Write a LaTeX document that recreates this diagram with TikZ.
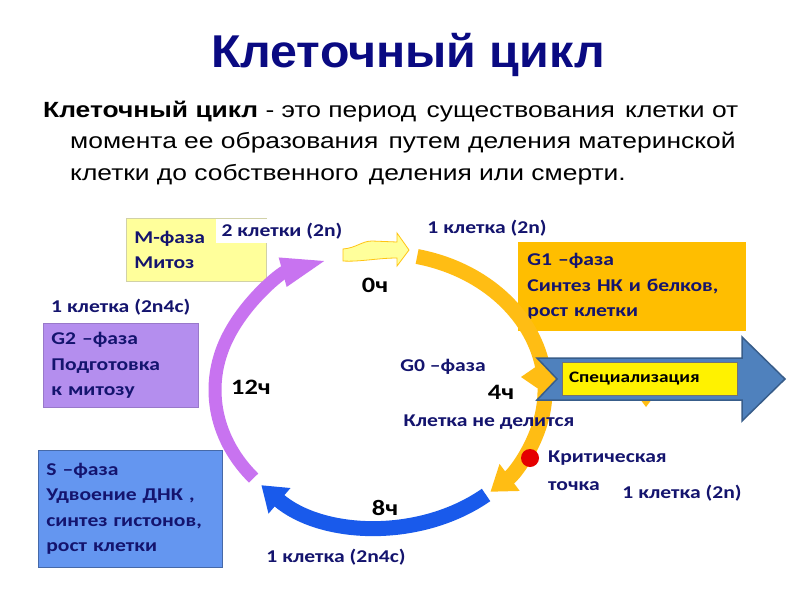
\documentclass[tikz,border=0pt]{standalone}
\usepackage{fontspec}
\setmainfont[FakeStretch=1.2]{Liberation Sans}
\newfontfamily\titlefont[FakeStretch=1.05]{Liberation Sans}
\newfontfamily\labelfont[FakeStretch=1.2]{Carlito}
\usetikzlibrary{calc,arrows.meta}
\definecolor{titleblue}{RGB}{10,10,130}
\definecolor{navy}{RGB}{20,20,110}
\definecolor{gold}{RGB}{255,189,20}
\definecolor{goldbox}{RGB}{255,190,0}
\definecolor{cycleblue}{RGB}{25,90,235}
\definecolor{orchid}{RGB}{200,115,240}
\definecolor{lavender}{RGB}{180,142,238}
\definecolor{cornflower}{RGB}{100,150,240}
\definecolor{paleyellow}{RGB}{255,255,155}
\definecolor{steel}{RGB}{79,129,189}
\definecolor{steelline}{RGB}{56,93,138}
\def\phasearc[#1](#2:#3){\draw[#1] ($(380,390)+({165*cos(#2)},{137*sin(#2)})$) arc[start angle=#2, end angle=#3, x radius=165, y radius=137];}

\begin{document}
\begin{tikzpicture}[x=1pt, y=-1pt,
	lbl/.style={font=\labelfont\bfseries\fontsize{18}{25.5}\selectfont, text=navy, inner sep=0pt},
	hrs/.style={font=\labelfont\bfseries\fontsize{22}{26}\selectfont, text=black, inner sep=0pt},
	defline/.style={anchor=base west, font=\fontsize{22}{26}\selectfont, inner sep=0pt},
	phasebox/.style={lbl, anchor=north west, align=left, inner xsep=8pt, inner ysep=0pt, line width=0.8pt}]
			%%%%% START %%%%%
			
			\fill[white] (0,0) rectangle (800,600);
			\useasboundingbox (0,0) rectangle (800,600);
			
			\node[font=\titlefont\bfseries\fontsize{46}{50}\selectfont, text=titleblue, anchor=base] (title) at (408,67) {Клеточный цикл};
			\node[defline] (def1) at (43,117) {\textbf{Клеточный цикл} - это период\hspace{3pt} существования\hspace{3pt} клетки от};
			\node[defline] (def2) at (70,148.5) {момента ее образования\hspace{3pt} путем деления материнской};
			\node[defline] (def3) at (70,180) {клетки до собственного\hspace{3pt} деления или смерти.};
			
			% phase boxes
			\node[phasebox, fill=paleyellow, draw=paleyellow!70!black!60, minimum width=140pt, minimum height=63pt, text width=124pt] (mbox) at (126,218) {M-фаза\\Митоз};
			\node[phasebox, fill=lavender, draw=lavender!85!black, minimum width=155pt, minimum height=84pt, text width=139pt] (gtwobox) at (43,323) {G2 –фаза\\Подготовка\\к митозу};
			\node[phasebox, fill=cornflower, draw=cornflower!70!black, minimum width=184pt, minimum height=117pt, text width=168pt] (sbox) at (38,450) {S –фаза\\Удвоение ДНК ,\\синтез гистонов,\\рост клетки};
			\node[phasebox, fill=goldbox, draw=goldbox, minimum width=227pt, minimum height=88pt, text width=209pt, inner xsep=9pt] (gonebox) at (518,242) {G1 –фаза\\Синтез НК и белков,\\рост клетки};
			
			% G0 branch, mostly under the blue arrow
			\fill[gold] (537,366) -- (521,377) -- (537,388) -- (640,399) -- (646,407) -- (652,399) -- (652,362) -- cycle;
			
			% the cycle
			\phasearc[gold, line width=15pt, -{Triangle[length=24pt,width=32pt]}](-77:48)
			\phasearc[cycleblue, line width=15pt, -{Triangle[length=24pt,width=32pt]}](50:136)
			\phasearc[orchid, line width=13pt, -{Triangle[length=48pt,width=26pt]}](140:252)
			
			\draw[fill=paleyellow, draw=gold!90!yellow, line width=0.8pt] (343,249) .. controls (356,248) and (362,241) .. (372,241) -- (397,242) -- (397,233) -- (409,250) -- (397,266) -- (397,258) .. controls (378,258) and (360,262) .. (343,261) -- cycle;
			
			% specialisation arrow
			\draw[fill=steel, draw=steelline, line width=1.5pt] (537,358) -- (742,358) -- (742,337) -- (785,379) -- (742,421) -- (742,400) -- (537,400) -- (557,379) -- cycle;
			\node[fill=yellow, draw=black!55, line width=0.8pt, minimum width=175pt, minimum height=33pt, text width=161pt, inner xsep=7pt, align=left, font=\labelfont\bfseries\fontsize{16}{18}\selectfont] (spec) at (649.5,378.5) {Специализация};
			
			\fill[red!90!black] (530,458) circle (9);
			
			% labels
			\node[lbl, fill=white, inner xsep=6pt, inner ysep=4pt] (twocells) at (282,231) {2 клетки (2n)};
			\node[lbl] (onetop) at (487,228) {1 клетка (2n)};
			\node[lbl, anchor=base west] (oneleft) at (51,312) {1 клетка (2n4c)};
			\node[lbl] (gzero) at (443,367) {G0 –фаза};
			\node[lbl] (nodiv) at (489,422) {Клетка не делится};
			\node[lbl, anchor=north west, align=left, font=\labelfont\bfseries\fontsize{18}{28}\selectfont] (crit) at (548,451) {Критическая\\точка};
			\node[lbl] (oneright) at (682,493) {1 клетка (2n)};
			\node[lbl] (onebottom) at (336,557) {1 клетка (2n4c)};
			
			\node[hrs] (hzero) at (375,285) {0ч};
			\node[hrs] (htwelve) at (251,387) {12ч};
			\node[hrs] (hfour) at (501,392) {4ч};
			\node[hrs] (height) at (385,508) {8ч};
			
			%%%%% END %%%%%
\end{tikzpicture}
\end{document}
